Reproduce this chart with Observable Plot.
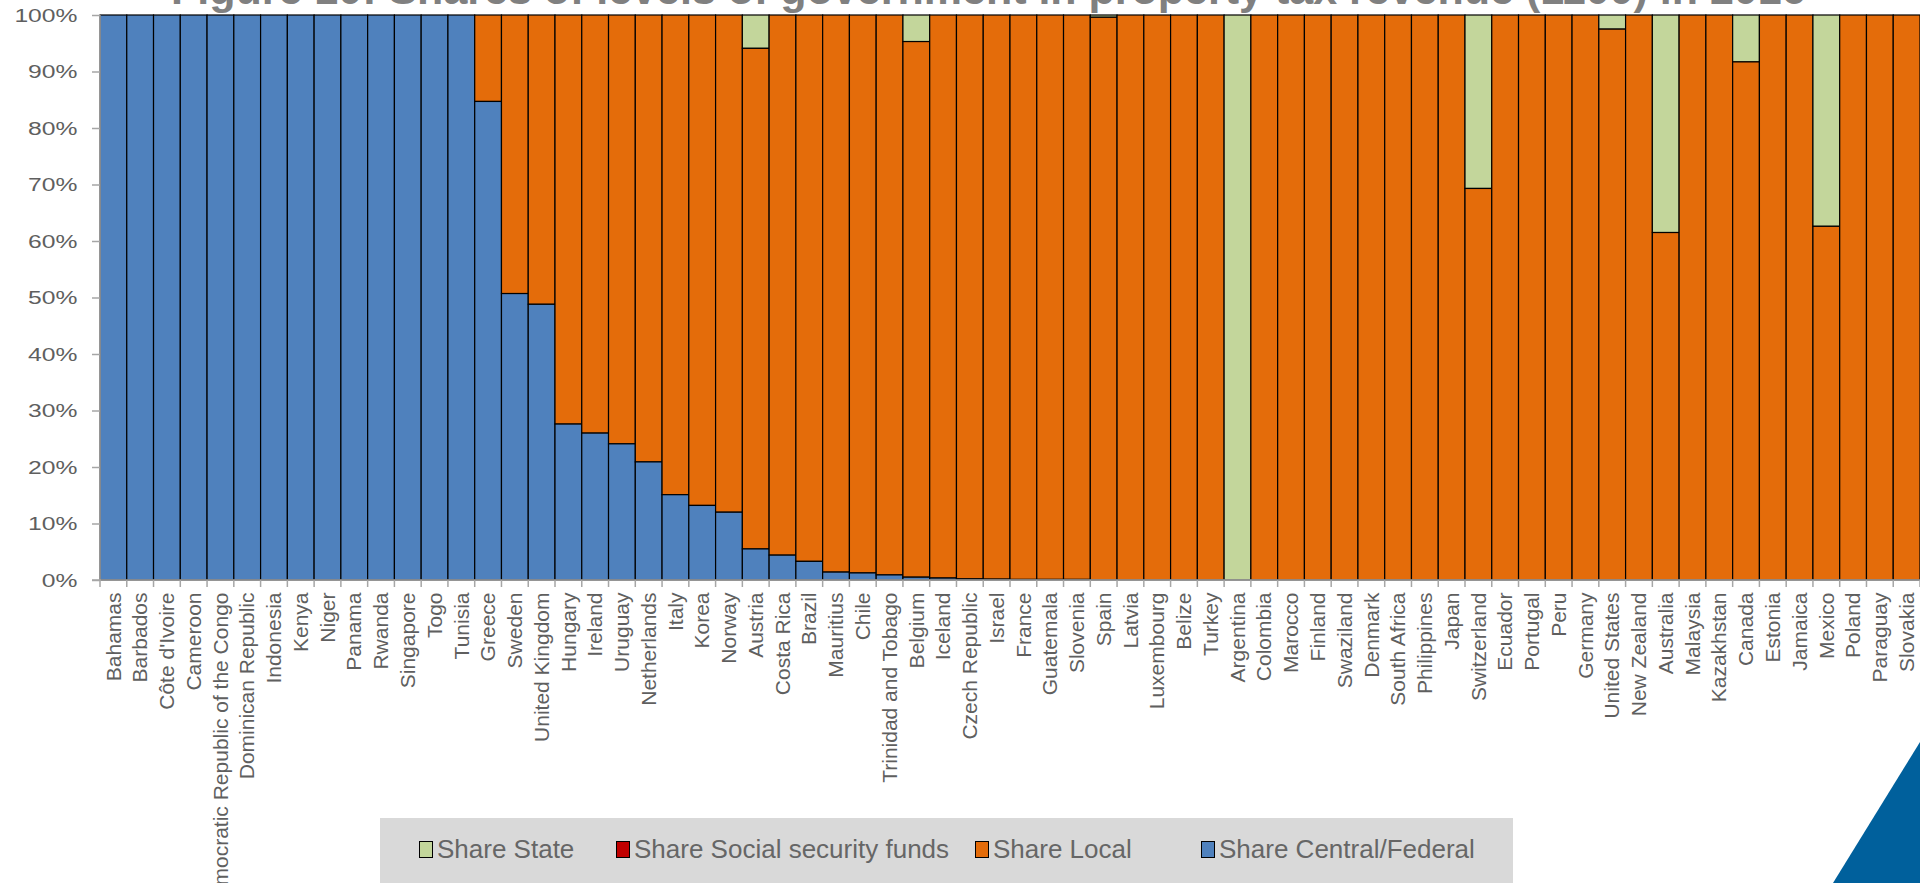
<!DOCTYPE html>
<html>
<head>
<meta charset="utf-8">
<script src="https://cdn.jsdelivr.net/npm/d3@7"></script>
<script src="https://cdn.jsdelivr.net/npm/@observablehq/plot@0.6"></script>
<style>
html, body { margin: 0; padding: 0; background: #fff; }
#wrap { position: relative; width: 1920px; height: 883px; overflow: hidden; font-family: "Liberation Sans", Arial, sans-serif; }
#chart { position: absolute; left: 0; top: 0; }
#title { position: absolute; left: 171px; width: 1600px; top: -32px; text-align: center; font-weight: bold; font-size: 43px; line-height: 43px; color: #808080; white-space: nowrap; }
#legend { position: absolute; left: 380px; top: 818px; width: 1133px; height: 80px; background: #d9d9d9; }
.item { position: absolute; top: 16px; height: 30px; display: flex; align-items: center; font-size: 26px; color: #666; white-space: nowrap; }
.sw { width: 12px; height: 15px; border: 1.5px solid #000; margin-right: 4px; }
#tri { position: absolute; left: 1833px; top: 742px; width: 87px; height: 141px; background: #00609c; clip-path: polygon(0 100%, 100% 0, 100% 100%); }
</style>
</head>
<body>
<div id="wrap">
  <div id="chart"></div>
  <div id="title"></div>
  <div id="legend"></div>
  <div id="tri"></div>
</div>
<script>
const titleText = "Figure 10: Shares of levels of government in property tax revenue (1100) in 2016";

const countries = ["Bahamas","Barbados","Côte d'Ivoire","Cameroon","Democratic Republic of the Congo","Dominican Republic","Indonesia","Kenya","Niger","Panama","Rwanda","Singapore","Togo","Tunisia","Greece","Sweden","United Kingdom","Hungary","Ireland","Uruguay","Netherlands","Italy","Korea","Norway","Austria","Costa Rica","Brazil","Mauritius","Chile","Trinidad and Tobago","Belgium","Iceland","Czech Republic","Israel","France","Guatemala","Slovenia","Spain","Latvia","Luxembourg","Belize","Turkey","Argentina","Colombia","Marocco","Finland","Swaziland","Denmark","South Africa","Philippines","Japan","Switzerland","Ecuador","Portugal","Peru","Germany","United States","New Zealand","Australia","Malaysia","Kazakhstan","Canada","Estonia","Jamaica","Mexico","Poland","Paraguay","Slovakia"];

// Shares in percent, one value per country (same order as countries)
const shareCentral = [100,100,100,100,100,100,100,100,100,100,100,100,100,100,84.7,50.7,48.8,27.6,26.0,24.1,20.9,15.1,13.2,12.0,5.5,4.4,3.3,1.4,1.25,0.9,0.5,0.35,0.2,0.15,0.1,0.1,0.1,0,0,0,0,0,0,0,0,0,0,0,0,0,0,0,0,0,0,0,0,0,0,0,0,0,0,0,0,0,0,0];
const shareSocial = [0,0,0,0,0,0,0,0,0,0,0,0,0,0,0,0,0,0,0,0,0,0,0,0,0,0,0,0,0,0,0,0,0,0,0,0,0,0,0,0,0,0,0,0,0,0,0,0,0,0,0,0,0,0,0,0,0,0,0,0,0,0,0,0,0,0,0,0];
const shareLocal = [0,0,0,0,0,0,0,0,0,0,0,0,0,0,15.3,49.3,51.2,72.4,74.0,75.9,79.1,84.9,86.8,88.0,88.6,95.6,96.7,98.6,98.75,99.1,94.8,99.65,99.8,99.85,99.9,99.9,99.9,99.6,100,100,100,100,0,100,100,100,100,100,100,100,100,69.3,100,100,100,100,97.5,100,61.5,100,100,91.7,100,100,62.6,100,100,100];
const shareState = [0,0,0,0,0,0,0,0,0,0,0,0,0,0,0,0,0,0,0,0,0,0,0,0,5.9,0,0,0,0,0,4.7,0,0,0,0,0,0,0.4,0,0,0,0,100,0,0,0,0,0,0,0,0,30.7,0,0,0,0,2.5,0,38.5,0,0,8.3,0,0,37.4,0,0,0];

// Legend order (top of stack first)
const levels = ["Share State","Share Social security funds","Share Local","Share Central/Federal"];
const levelColors = ["#c3d69b","#c00000","#e46c0a","#4f81bd"];
const yTicks = [0,10,20,30,40,50,60,70,80,90,100];

const seriesByLevel = {
  "Share State": shareState,
  "Share Social security funds": shareSocial,
  "Share Local": shareLocal,
  "Share Central/Federal": shareCentral
};
const rows = [];
countries.forEach((c, i) => {
  for (const lv of levels) rows.push({country: c, level: lv, value: seriesByLevel[lv][i]});
});
const stackOrder = levels.slice().reverse();

const chart = Plot.plot({
  width: 1920,
  height: 883,
  marginLeft: 100,
  marginRight: 0,
  marginTop: 15,
  marginBottom: 303,
  style: {fontFamily: "'Liberation Sans', Arial, sans-serif", background: "transparent"},
  x: {domain: countries, padding: 0, label: null},
  y: {domain: [0, 100], label: null},
  color: {domain: levels, range: levelColors},
  marks: [
    Plot.barY(rows, {x: "country", y: "value", fill: "level", z: "level", order: stackOrder, stroke: "#000", strokeWidth: 1.2}),
    Plot.axisY({ticks: yTicks, tickFormat: d => d + "%", tickSize: 8, tickPadding: 15, fontSize: 19, color: "#5f5f5f"}),
    Plot.axisX({tickRotate: -90, tickSize: 0, tickPadding: 12, fontSize: 21, color: "#5f5f5f"})
  ]
});
document.getElementById("chart").appendChild(chart);

// axis lines and category boundary ticks, from the plot's own scales
const xs = chart.scale("x"), ys = chart.scale("y");
const svg = d3.select(chart);
svg.selectAll('g[aria-label="y-axis tick"]').attr("stroke", "#a6a6a6").attr("stroke-width", 1.5);
// the reference's y labels are drawn with wide glyphs: widen them about their right edge
svg.selectAll('g[aria-label="y-axis tick label"] text').each(function() {
  const t = this.getAttribute("transform") || "";
  this.setAttribute("transform", t + " scale(1.3,1)");
});
const y0 = ys.apply(0), yTop = ys.apply(100);
const gAx = svg.append("g").attr("stroke", "#a6a6a6").attr("stroke-width", 1.5);
const xLeft = xs.range[0], xRight = xs.range[1];
gAx.append("line").attr("x1", xLeft).attr("x2", xLeft).attr("y1", yTop).attr("y2", y0 + 0.5);
gAx.append("line").attr("x1", xLeft - 8).attr("x2", xRight).attr("y1", y0).attr("y2", y0);
const bounds = countries.map(c => xs.apply(c)).concat([xs.apply(countries[countries.length - 1]) + xs.bandwidth]);
gAx.selectAll("line.tk").data(bounds).join("line").attr("class", "tk")
  .attr("x1", d => d).attr("x2", d => d).attr("y1", y0).attr("y2", y0 + 7);

// title
document.getElementById("title").textContent = titleText;

// legend
const legendX = [39, 236, 595, 821];
const leg = document.getElementById("legend");
levels.forEach((lv, i) => {
  const it = document.createElement("div");
  it.className = "item";
  it.style.left = legendX[i] + "px";
  const sw = document.createElement("span");
  sw.className = "sw";
  sw.style.background = levelColors[i];
  const tx = document.createElement("span");
  tx.textContent = lv;
  it.appendChild(sw); it.appendChild(tx);
  leg.appendChild(it);
});
</script>
</body>
</html>
